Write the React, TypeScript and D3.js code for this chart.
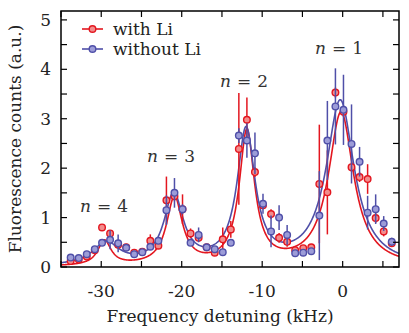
import React from 'react';
import * as d3 from 'd3';

// detuning of each measured point (kHz)
const detuning = [
  -33.8, -32.8, -31.8, -30.8, -29.9, -28.9, -27.9, -26.9, -25.9, -24.9,
  -23.9, -22.9, -21.9, -20.9, -19.9, -18.9, -17.9, -16.9, -15.9, -14.9,
  -13.9, -12.9, -11.9, -10.9, -9.9, -8.9, -7.9, -6.9, -5.9, -4.9,
  -3.9, -2.9, -1.9, -0.9, 0.1, 1.1, 2.1, 3.1, 4.1, 5.1, 6.1,
];

// with Li (red)
const withLi = [
  0.12, 0.15, 0.21, 0.34, 0.8, 0.68, 0.45, 0.4, 0.29, 0.31,
  0.53, 0.43, 1.35, 1.43, 1.17, 0.68, 0.59, 0.4, 0.29, 0.56,
  0.76, 2.39, 2.98, 1.92, 1.25, 1.07, 0.59, 0.51, 0.34, 0.38,
  0.4, 1.68, 1.51, 3.53, 3.14, 2.02, 1.82, 1.78, 0.99, 0.72, 0.48,
];
const withLiErr = [
  0.06, 0.06, 0.06, 0.06, 0.06, 0.06, 0.06, 0.06, 0.06, 0.06,
  0.13, 0.06, 0.48, 0.1, 0.3, 0.1, 0.08, 0.06, 0.06, 0.24,
  0.17, 1.13, 0.45, 0.1, 0.08, 0.1, 0.1, 0.1, 0.06, 0.06,
  0.06, 1.2, 0.85, 0.1, 0.1, 0.1, 0.1, 0.3, 0.1, 0.1, 0.06,
];

// without Li (blue)
const withoutLi = [
  0.19, 0.18, 0.26, 0.36, 0.49, 0.55, 0.48, 0.39, 0.26, 0.3,
  0.41, 0.53, 1.15, 1.5, 1.17, 0.49, 0.65, 0.4, 0.36, 0.3,
  0.49, 2.66, 2.56, 2.3, 1.28, 0.72, 1.0, 0.65, 0.28, 0.29,
  0.32, 1.04, 2.56, 3.25, 3.18, 2.49, 2.13, 1.1, 1.17, 0.88, 0.51,
];
const withoutLiErr = [
  0.06, 0.06, 0.06, 0.06, 0.06, 0.19, 0.18, 0.06, 0.06, 0.06,
  0.06, 0.06, 0.3, 0.3, 0.1, 0.06, 0.15, 0.06, 0.06, 0.06,
  0.06, 0.15, 0.35, 0.42, 0.2, 0.32, 0.25, 0.2, 0.06, 0.06,
  0.06, 0.9, 0.8, 0.77, 0.71, 0.8, 0.3, 0.34, 0.3, 0.15, 0.08,
];

// Lorentzian fit parameters for the peaks n = 1..4
const peakNumbers = ['1', '2', '3', '4'];
const fitCenterRed = [-0.2, -11.9, -20.9, -29.6];
const fitAmpRed = [3.11, 2.69, 1.36, 0.5];
const fitWidthRed = [1.9, 1.15, 1.2, 1.0];
const fitCenterBlue = [-0.3, -12.0, -21.0, -29.4];
const fitAmpBlue = [3.34, 2.7, 1.4, 0.45];
const fitWidthBlue = [2.1, 1.35, 1.45, 2.0];

const xTicks = [-30, -20, -10, 0];
const yTicks = [0, 1, 2, 3, 4, 5];

const W = 409;
const H = 333;
const margin = { left: 61, right: 10, top: 11, bottom: 66 };
const serif = "'DejaVu Serif', serif";

const RED = '#e3161f';
const RED_FILL = '#f28c8c';
const BLUE = '#4f4fa8';
const BLUE_FILL = '#9c9cd8';

function lorentz(x: number, c: number[], a: number[], g: number[]) {
  let s = 0;
  for (let k = 0; k < c.length; k++) {
    const u = (x - c[k]) / g[k];
    s += a[k] / (1 + u * u);
  }
  return s;
}

export default function App() {
  const x = d3.scaleLinear().domain([-35, 7]).range([margin.left, W - margin.right]);
  const y = d3.scaleLinear().domain([0, 5.18]).range([H - margin.bottom, margin.top]);
  const x0 = margin.left;
  const x1 = W - margin.right;
  const y0 = H - margin.bottom;
  const y1 = margin.top;

  const grid = d3.range(-35, 7.001, 0.05);
  const line = d3
    .line<number[]>()
    .x((d) => x(d[0]))
    .y((d) => y(d[1]));
  const redPath = line(grid.map((v) => [v, lorentz(v, fitCenterRed, fitAmpRed, fitWidthRed)]));
  const bluePath = line(grid.map((v) => [v, lorentz(v, fitCenterBlue, fitAmpBlue, fitWidthBlue)]));

  const minorX = d3.range(-35, 7.001, 5);
  const minorY = d3.range(0, 5.01, 0.5);
  const tickLen = 6;

  const points = (vals: number[], errs: number[], stroke: string, fill: string) => (
    <g>
      {vals.map((v, i) => (
        <line
          key={'e' + i}
          x1={x(detuning[i])}
          x2={x(detuning[i])}
          y1={y(v - errs[i])}
          y2={y(v + errs[i])}
          stroke={stroke}
          strokeWidth={1.5}
        />
      ))}
      {vals.map((v, i) => (
        <circle key={'p' + i} cx={x(detuning[i])} cy={y(v)} r={3.3} fill={fill} stroke={stroke} strokeWidth={1.4} />
      ))}
    </g>
  );

  // left edge of each "n = k" label
  const labelPos = [
    { px: 315, py: 54 },
    { px: 220, py: 87 },
    { px: 147, py: 162 },
    { px: 80, py: 212 },
  ];

  const txt = { fontFamily: serif, fontSize: 17 };

  return (
    <div style={{ position: 'fixed', left: 0, top: 0 }}>
      <svg width={W} height={H} style={{ display: 'block', background: '#fff' }}>
        <defs>
          <clipPath id="plot">
            <rect x={x0} y={y1} width={x1 - x0} height={y0 - y1} />
          </clipPath>
        </defs>
        <g clipPath="url(#plot)">
          <path d={redPath || ''} fill="none" stroke={RED} strokeWidth={1.6} />
          <path d={bluePath || ''} fill="none" stroke={BLUE} strokeWidth={1.6} />
          {points(withLi, withLiErr, RED, RED_FILL)}
          {points(withoutLi, withoutLiErr, BLUE, BLUE_FILL)}
        </g>

        {/* frame and ticks */}
        <rect x={x0} y={y1} width={x1 - x0} height={y0 - y1} fill="none" stroke="#000" strokeWidth={1.5} />
        {minorX.map((t) => (
          <g key={'xt' + t}>
            <line x1={x(t)} x2={x(t)} y1={y0} y2={y0 - tickLen} stroke="#000" strokeWidth={1.2} />
            <line x1={x(t)} x2={x(t)} y1={y1} y2={y1 + tickLen} stroke="#000" strokeWidth={1.2} />
          </g>
        ))}
        {minorY.map((t) => (
          <g key={'yt' + t}>
            <line x1={x0} x2={x0 + tickLen} y1={y(t)} y2={y(t)} stroke="#000" strokeWidth={1.2} />
            <line x1={x1} x2={x1 - tickLen} y1={y(t)} y2={y(t)} stroke="#000" strokeWidth={1.2} />
          </g>
        ))}
        {xTicks.map((t) => (
          <text key={'xl' + t} x={x(t)} y={297} textAnchor="middle" style={txt} fill="#222">
            {t === 0 ? '0' : '-' + Math.abs(t)}
          </text>
        ))}
        {yTicks.map((t) => (
          <text key={'yl' + t} x={51} y={y(t) + 6} textAnchor="end" style={txt} fill="#222">
            {t}
          </text>
        ))}
        <text x={220} y={322} textAnchor="middle" style={txt} fill="#222">
          Frequency detuning (kHz)
        </text>
        <text transform={`translate(21,${(y0 + y1) / 2}) rotate(-90)`} textAnchor="middle" style={txt} fill="#222">
          Fluorescence counts (a.u.)
        </text>

        {/* peak labels */}
        {peakNumbers.map((num, i) => (
          <text key={num} x={labelPos[i].px} y={labelPos[i].py} style={txt} fill="#333">
            <tspan fontStyle="italic">n</tspan>
            <tspan dx={6}>=</tspan>
            <tspan dx={6}>{num}</tspan>
          </text>
        ))}

        {/* legend */}
        {[
          { label: 'with Li', stroke: RED, fill: RED_FILL, ly: 29 },
          { label: 'without Li', stroke: BLUE, fill: BLUE_FILL, ly: 49 },
        ].map((d) => (
          <g key={d.label}>
            <line x1={82} x2={103} y1={d.ly} y2={d.ly} stroke={d.stroke} strokeWidth={1.6} />
            <circle cx={92.5} cy={d.ly} r={3.3} fill={d.fill} stroke={d.stroke} strokeWidth={1.4} />
            <text x={113} y={d.ly + 6} style={txt} fill="#222">
              {d.label}
            </text>
          </g>
        ))}
      </svg>
    </div>
  );
}
